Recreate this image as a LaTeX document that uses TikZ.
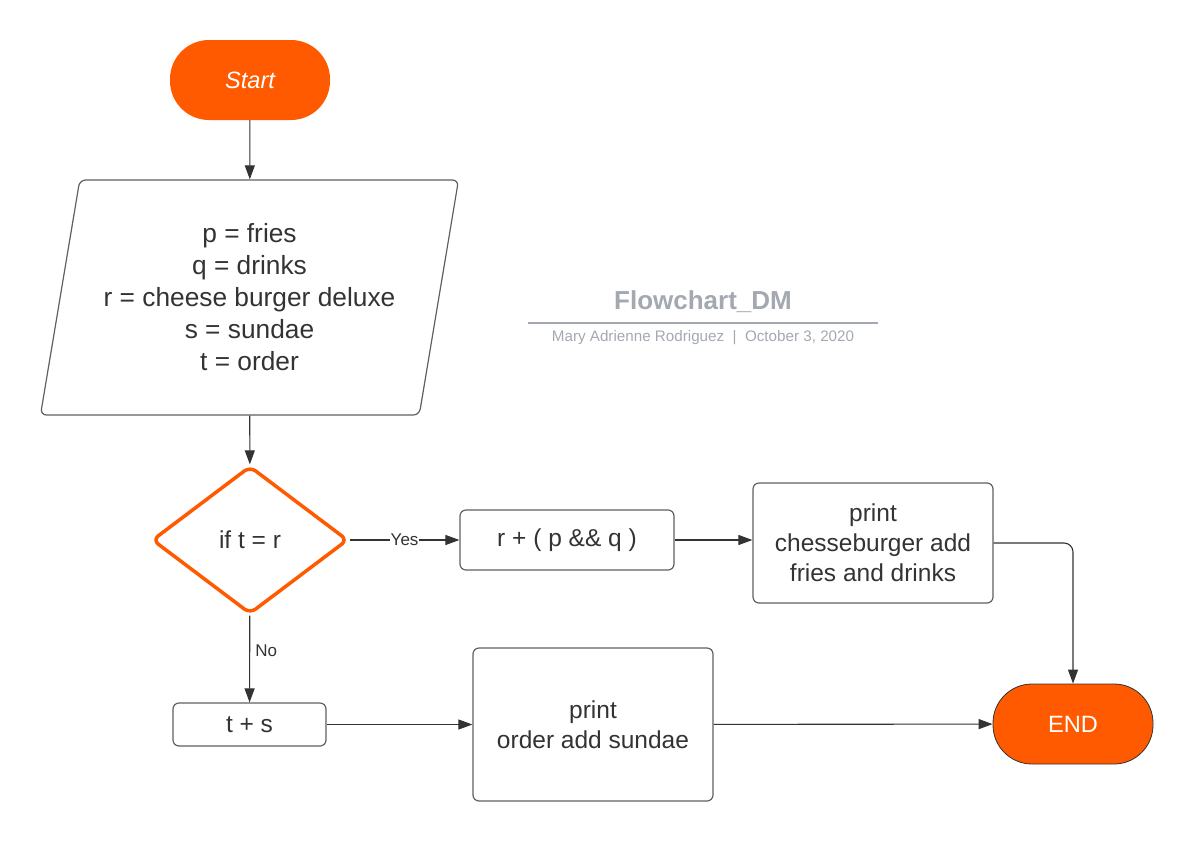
\documentclass[tikz,border=0pt]{standalone}
\usepackage{fontspec}
\setmainfont{Liberation Sans}
\usetikzlibrary{shapes.geometric,arrows.meta}
\definecolor{flowOrange}{HTML}{FF5A00}
\definecolor{titleGray}{HTML}{A3A8B1}
\definecolor{edgeGray}{HTML}{606060}
\definecolor{inkGray}{HTML}{333333}
\begin{document}
\begin{tikzpicture}[x=1pt,y=-1pt,
  term/.style={fill=flowOrange,rounded corners=39pt,minimum width=160pt,minimum height=80pt,
    text=white,font=\fontsize{23.6}{28}\selectfont},
  proc/.style={draw=edgeGray,line width=1.2pt,rounded corners=6pt,text=inkGray,align=center,
    font=\fontsize{24.5}{30}\selectfont},
  arr/.style={draw=inkGray,line width=1.1pt,-{Triangle[length=14pt,width=10pt]}},
  lbl/.style={fill=white,inner sep=1pt,text=inkGray,font=\fontsize{17}{20}\selectfont}]
\useasboundingbox (0,0) rectangle (1193,841);

% Terminals
\node[term,font=\fontsize{23.6}{28}\selectfont\itshape] (start) at (250,80) {Start};
\node[term,draw=inkGray,line width=0.8pt] (end) at (1073,724) {END};

% Input block
\node[trapezium,trapezium left angle=75.7,trapezium right angle=104.3,trapezium stretches body,
  draw=edgeGray,line width=1.2pt,rounded corners=6pt,minimum width=418pt,minimum height=235pt,
  text=inkGray,align=center,font=\fontsize{26.3}{32}\selectfont] (data) at (249.5,297.5)
  {p = fries\\q = drinks\\r = cheese burger deluxe\\s = sundae\\t = order};

% Decision
\node[diamond,aspect=1.32,draw=flowOrange,line width=3.5pt,rounded corners=7pt,
  minimum width=196pt,minimum height=148pt,text=inkGray,font=\fontsize{24.5}{30}\selectfont]
  (cond) at (250,540) {if t = r};

% Process boxes
\node[proc,minimum width=214pt,minimum height=60pt] (combo) at (567,540) {r + ( p \&\& q )};
\node[proc,minimum width=240pt,minimum height=120pt] (combomsg) at (873,543)
  {print\\chesseburger add\\fries and drinks};
\node[proc,minimum width=153pt,minimum height=43pt] (sundae) at (249.5,724.5) {t + s};
\node[proc,minimum width=240pt,minimum height=153pt] (sundaemsg) at (593,724.5)
  {print\\order add sundae};

% Title
\node[text=titleGray,font=\fontsize{26}{30}\selectfont\bfseries] (title) at (703,302) {Flowchart\_DM};
\draw[titleGray,line width=2pt] (528,323) -- (878,323);
\node[text=titleGray,font=\fontsize{15.2}{18}\selectfont] (byline) at (703,338)
  {Mary Adrienne Rodriguez\ \ |\ \ October 3, 2020};

% Connectors
\draw[arr] (start) -- (data);
\draw[arr] (data) -- (cond);
\draw[arr] (cond) -- node[lbl] {Yes} (combo);
\draw[arr] (combo.east) -- (combo.east -| combomsg.west);
\draw[arr,rounded corners=9pt] (combomsg.east) -| (end.north);
\draw[arr] (cond) -- node[lbl,right,pos=0.4,xshift=4pt,fill=none] {No} (sundae);
\draw[arr] (sundae) -- (sundaemsg);
\draw[arr] (sundaemsg) -- (end);

\end{tikzpicture}
\end{document}
